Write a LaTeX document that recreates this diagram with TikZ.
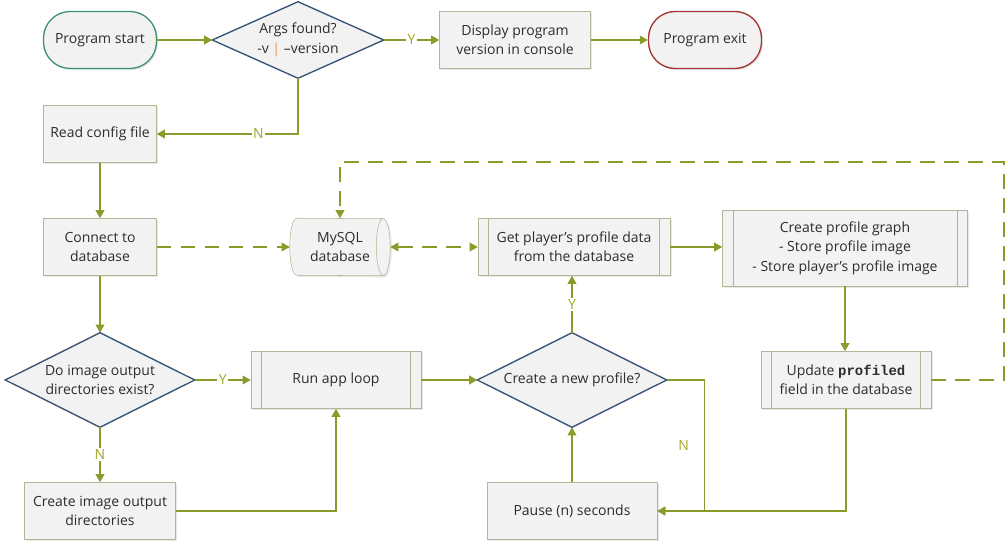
\documentclass[tikz,border=0pt]{standalone}
\usepackage{fontspec}
\setmainfont{Open Sans}
\setmonofont{Liberation Mono}
\usetikzlibrary{arrows.meta,backgrounds,patterns,positioning,shadows,shapes.geometric}
\definecolor{flowolive}{RGB}{138,155,44}
\definecolor{ynolive}{RGB}{165,168,40}
\definecolor{boxedge}{RGB}{178,182,148}
\definecolor{boxfill}{RGB}{242,242,242}
\definecolor{decblue}{RGB}{55,82,115}
\definecolor{startgreen}{RGB}{62,148,112}
\definecolor{exitred}{RGB}{160,52,50}
\definecolor{textgray}{RGB}{45,45,45}
\definecolor{pipeorange}{RGB}{232,140,70}

\begin{document}
\begin{tikzpicture}[x=0.75pt,y=-0.75pt,>={Triangle[length=6pt,width=6.5pt]},
    font=\fontsize{10.5}{14.5}\selectfont,
    flow/.style={draw=flowolive,line width=1pt,->},
    dataflow/.style={flow,dash pattern=on 11pt off 7pt},
    shade box/.style={drop shadow={shadow xshift=1.2pt,shadow yshift=-1.2pt,opacity=.18},
      preaction={fill=boxfill},preaction={pattern=north west lines,pattern color=black!4}},
    box/.style={shade box,draw=boxedge,text=textgray,align=center,inner xsep=2pt,
      minimum width=#1,minimum height=42.75pt},
    subproc/.style={box=#1,path picture={
      \draw[boxedge] ([xshift=8pt]path picture bounding box.north west)
        -- ([xshift=8pt]path picture bounding box.south west)
        ([xshift=-8pt]path picture bounding box.north east)
        -- ([xshift=-8pt]path picture bounding box.south east);}},
    terminal/.style={draw=#1,line width=1pt,fill=boxfill,text=textgray,rounded corners=20pt,
      minimum width=84.75pt,minimum height=42.75pt,
      drop shadow={shadow xshift=1.2pt,shadow yshift=-1.2pt,opacity=.18}},
    decision/.style={align=center,text=textgray,inner sep=0pt},
    decisionline/.style={draw=decblue,fill=boxfill,line width=1pt},
    yn/.style={text=ynolive,fill=white,inner sep=1pt}]
  \useasboundingbox (0,0) rectangle (1008,548);

  % top row
  \node[terminal=startgreen] (start) at (100,40) {Program start};
  \node[decision,minimum width=128.25pt,minimum height=57pt] (args) at (298,40)
    {Args found?\\-v \textcolor{pipeorange}{|} --version};
  \node[box=113.25pt] (disp) at (515,40) {Display program\\version in console};
  \node[terminal=exitred] (exit) at (705,40) {Program exit};

  % setup
  \node[box=84.75pt] (read) at (100,134) {Read config file};
  \node[box=84.75pt] (connect) at (100,247) {Connect to\\database};
  \node[decision,minimum width=75pt,minimum height=42.75pt] (mysql) at (340,247) {MySQL\\database};
  \node[subproc=144pt] (getdata) at (574,247) {Get player’s profile data\\from the database};
  \node[subproc=183.75pt,minimum height=57pt] (graph) at (845,248)
    {Create profile graph\\- Store profile image\\- Store player’s profile image};

  % loop
  \node[decision,minimum width=141.75pt,minimum height=70.5pt] (dirs) at (100,380)
    {Do image output\\directories exist?};
  \node[subproc=127.5pt] (run) at (336,380) {Run app loop};
  \node[decision,minimum width=141.75pt,minimum height=70.5pt] (newprof) at (572,380)
    {Create a new profile?};
  \node[subproc=127.5pt] (update) at (846,380) {Update \texttt{\textbf{profiled}}\\field in the database};
  \node[box=113.25pt] (mkdirs) at (100,511) {Create image output\\directories};
  \node[box=127.5pt] (pause) at (572,511) {Pause (n) seconds};

  \begin{scope}[on background layer]
    \foreach \d in {args,dirs,newprof}
      \draw[decisionline] (\d.west) -- (\d.north) -- (\d.east) -- (\d.south) -- cycle;
    \path[shade box,draw=boxedge] ([xshift=5.25pt]mysql.north west)
      arc[start angle=90,end angle=270,x radius=5.25pt,y radius=21.375pt]
      -- ([xshift=-5.25pt]mysql.south east)
      arc[start angle=-90,end angle=90,x radius=5.25pt,y radius=21.375pt] -- cycle;
    \draw[boxedge] ([xshift=-5.25pt]mysql.north east)
      arc[start angle=90,end angle=270,x radius=5.25pt,y radius=21.375pt];
  \end{scope}

  \draw[flow] (start.east) -- (args.west);
  \draw[flow] (args.east) -- node[yn]{Y} (disp.west);
  \draw[flow] (disp) -- (exit);
  \draw[flow] (args.south) |- node[yn,pos=.64]{N} (read.east);
  \draw[flow] (read) -- (connect);
  \draw[dataflow] (connect) -- (mysql);
  \draw[dataflow,<->] (mysql) -- (getdata);
  \draw[flow] (getdata.east) -- (getdata.east -| graph.west);
  \draw[flow] (graph.south) -- (graph.south |- update.north);
  \coordinate (backtop) at (1004,162);
  \draw[dataflow] (update.east) -| (backtop) -| (mysql.north);
  \draw[flow] (connect) -- (dirs.north);
  \draw[flow] (dirs.east) -- node[yn]{Y} (run.west);
  \draw[flow] (dirs.south) -- node[yn]{N} (mkdirs.north);
  \draw[flow] (mkdirs.east) -| (run.south);
  \draw[flow] (run.east) -- (newprof.west);
  \draw[flow] (newprof.north) -- node[yn]{Y} (newprof.north |- getdata.south);
  \draw[flow] (newprof.east) -- ++(38,0) |- node[pos=.25,left=8pt,text=ynolive]{N} (pause.east);
  \draw[flow] (update.south) |- (pause.east);
  \draw[flow] (pause.north) -- (newprof.south);
\end{tikzpicture}
\end{document}
